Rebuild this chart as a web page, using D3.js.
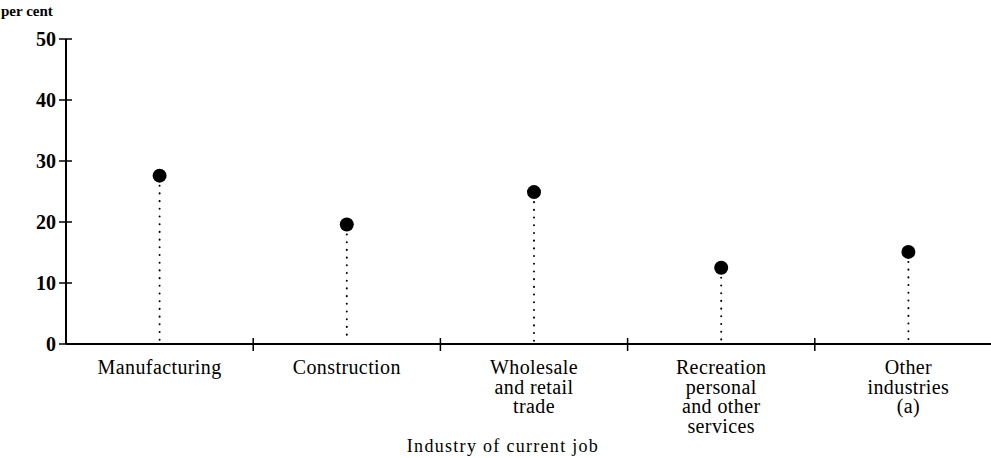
<!DOCTYPE html>
<html lang="en">
<head>
<meta charset="UTF-8">
<title>Industry of current job</title>
<style>
  body { margin: 0; background: #fff; }
  svg { display: block; font-family: "Liberation Serif", "DejaVu Serif", serif; }
</style>
</head>
<body>
<svg id="chart" width="991" height="458"></svg>
<script src="https://d3js.org/d3.v7.min.js"></script>
<script>
const categories = ["Manufacturing", "Construction", "Wholesale and retail trade", "Recreation personal and other services", "Other industries (a)"];
const labelLines = [["Manufacturing"], ["Construction"], ["Wholesale", "and retail", "trade"], ["Recreation", "personal", "and other", "services"], ["Other", "industries", "(a)"]];
const values = [27.6, 19.6, 24.9, 12.5, 15.1];
const yTicks = [0, 10, 20, 30, 40, 50];

const svg = d3.select("#chart");
const margin = { left: 66, right: 1002, top: 39, bottom: 344 };

const x = d3.scaleBand().domain(categories).range([margin.left, margin.right]);
const y = d3.scaleLinear().domain([0, 50]).range([margin.bottom, margin.top]);

// y axis
svg.append("line")
    .attr("x1", margin.left).attr("x2", margin.left)
    .attr("y1", y(50)).attr("y2", y(0))
    .attr("stroke", "#000").attr("stroke-width", 2);

svg.selectAll(".ytick")
    .data(yTicks)
    .enter().append("line")
    .attr("x1", margin.left - 7).attr("x2", margin.left + 6)
    .attr("y1", d => y(d)).attr("y2", d => y(d))
    .attr("stroke", "#000").attr("stroke-width", 1.5);

svg.selectAll(".ylab")
    .data(yTicks)
    .enter().append("text")
    .attr("x", margin.left - 10)
    .attr("y", d => y(d))
    .attr("dy", "0.35em")
    .attr("text-anchor", "end")
    .style("font-size", "20px")
    .style("font-weight", "bold")
    .text(d => d);

svg.append("text")
    .attr("x", 1).attr("y", 16)
    .style("font-size", "15px")
    .style("font-weight", "bold")
    .text("per cent");

// x axis
svg.append("line")
    .attr("x1", margin.left).attr("x2", 991)
    .attr("y1", y(0)).attr("y2", y(0))
    .attr("stroke", "#000").attr("stroke-width", 2);

svg.selectAll(".xtick")
    .data(categories.slice(1))
    .enter().append("line")
    .attr("x1", d => x(d)).attr("x2", d => x(d))
    .attr("y1", y(0) - 6).attr("y2", y(0) + 7)
    .attr("stroke", "#000").attr("stroke-width", 1.5);

// dotted stems
svg.selectAll(".stem")
    .data(categories)
    .enter().append("line")
    .attr("x1", d => x(d) + x.bandwidth() / 2)
    .attr("x2", d => x(d) + x.bandwidth() / 2)
    .attr("y1", (d, i) => y(values[i]) + 10)
    .attr("y2", y(0) - 3)
    .attr("stroke", "#000")
    .attr("stroke-width", 2)
    .attr("stroke-linecap", "round")
    .attr("stroke-dasharray", "0.1 7.6");

svg.selectAll(".dot")
    .data(categories)
    .enter().append("circle")
    .attr("cx", d => x(d) + x.bandwidth() / 2)
    .attr("cy", (d, i) => y(values[i]))
    .attr("r", 7)
    .attr("fill", "#000");

// category labels
categories.forEach((c, i) => {
    const t = svg.append("text")
        .attr("text-anchor", "middle")
        .style("font-size", "20px")
        .style("letter-spacing", "0.4px");
    labelLines[i].forEach((line, j) => {
        t.append("tspan")
            .attr("x", x(c) + x.bandwidth() / 2)
            .attr("y", 374 + j * 19.5)
            .text(line);
    });
});

svg.append("text")
    .attr("x", 503).attr("y", 452)
    .attr("text-anchor", "middle")
    .style("font-size", "18px")
    .style("letter-spacing", "1.3px")
    .text("Industry of current job");
</script>
</body>
</html>
